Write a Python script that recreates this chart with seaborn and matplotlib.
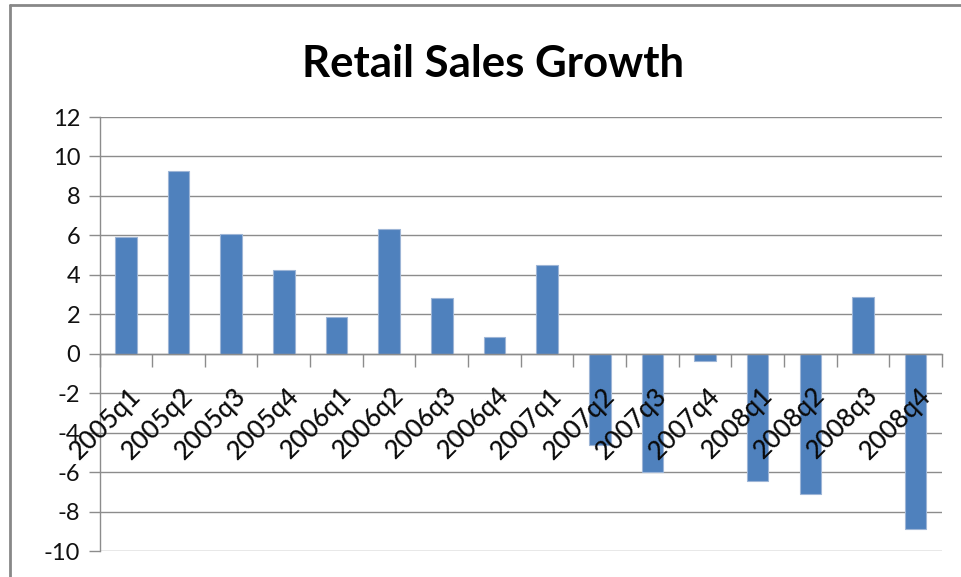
import matplotlib
matplotlib.use("Agg")
import matplotlib.pyplot as plt
import matplotlib.transforms as mtransforms
import seaborn as sns
import pandas as pd
from matplotlib.lines import Line2D

quarters = ["2005q1", "2005q2", "2005q3", "2005q4",
            "2006q1", "2006q2", "2006q3", "2006q4",
            "2007q1", "2007q2", "2007q3", "2007q4",
            "2008q1", "2008q2", "2008q3", "2008q4"]
growth = [5.9, 9.25, 6.05, 4.25,
          1.85, 6.3, 2.8, 0.85,
          4.5, -4.65, -6.0, -0.35,
          -6.45, -7.1, 2.9, -8.9]
y_ticks = [12, 10, 8, 6, 4, 2, 0, -2, -4, -6, -8, -10]

df = pd.DataFrame({"quarter": quarters, "growth": growth})

sns.set_theme(style="white")
plt.rcParams["font.family"] = ["Lato", "DejaVu Sans"]

W, H = 961, 577
fig = plt.figure(figsize=(W / 100, H / 100), dpi=100)
ax = fig.add_axes([99.5 / W, 1 - 551 / H, (942 - 99.5) / W, (551 - 117) / H])

grid_c = "#8c8c8c"
bar_c = "#4f81bd"

sns.barplot(data=df, x="quarter", y="growth", color=bar_c, width=0.41,
            edgecolor="#9db5d6", linewidth=0.8, saturation=1, ax=ax, zorder=3)

ax.set_xlim(-0.5, len(quarters) - 0.5)
ax.set_ylim(min(y_ticks), max(y_ticks))
ax.set_yticks(y_ticks)
ax.set_yticklabels([str(v) for v in y_ticks])
ax.yaxis.grid(True, color=grid_c, linewidth=1.0, zorder=0)
ax.set_axisbelow(True)
ax.set_xlabel("")
ax.set_ylabel("")

for s in ["top", "right"]:
    ax.spines[s].set_visible(False)
ax.spines["left"].set_color(grid_c)
ax.spines["left"].set_linewidth(1.0)
ax.spines["bottom"].set_position(("data", 0))
ax.spines["bottom"].set_color(grid_c)
ax.spines["bottom"].set_linewidth(1.0)
ax.spines["bottom"].set_zorder(4)

# tick marks sit between categories; category names are placed below
ax.set_xticks([i + 0.5 for i in range(-1, len(quarters))])
ax.set_xticklabels([])
ax.tick_params(axis="x", which="major", length=9, width=1, color=grid_c,
               direction="out", bottom=True)
ax.tick_params(axis="y", which="major", length=8, width=1, color=grid_c,
               direction="out", left=True, labelsize=17, pad=6,
               labelcolor="#111111")

label_offset = mtransforms.ScaledTranslation(11 / 100, -38 / 100, fig.dpi_scale_trans)
for i, q in enumerate(quarters):
    ax.text(i, 0, q, transform=ax.transData + label_offset,
            rotation=45, rotation_mode="anchor", ha="right", va="center",
            fontsize=18.5, fontweight="medium", color="#0a0a0a", zorder=6,
            clip_on=False)

fig.text(493 / W, 1 - 77 / H, "Retail Sales Growth", ha="center",
         va="baseline", fontsize=31.5, fontweight="bold", color="black")

# chart frame edges
fig.add_artist(Line2D([10 / W, 10 / W], [0, 1 - 5 / H], transform=fig.transFigure,
                      color="#888888", linewidth=2))
fig.add_artist(Line2D([10 / W, 1], [1 - 5 / H, 1 - 5 / H], transform=fig.transFigure,
                      color="#888888", linewidth=2))

fig.savefig("out.png", dpi=100)
